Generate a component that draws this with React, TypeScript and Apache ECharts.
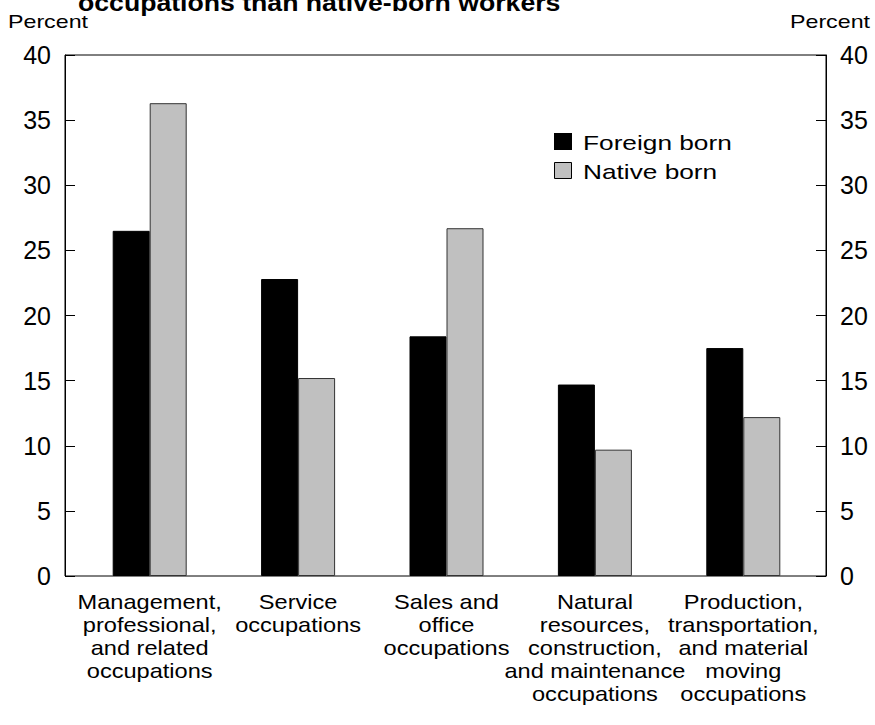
import React, { useEffect, useRef } from "react";
import * as echarts from "echarts";

const categories = [
  "Management,\nprofessional,\nand related\noccupations",
  "Service\noccupations",
  "Sales and\noffice\noccupations",
  "Natural\nresources,\nconstruction,\nand maintenance\noccupations",
  "Production,\ntransportation,\nand material\nmoving\noccupations",
];
const foreignBorn = [26.5, 22.8, 18.4, 14.7, 17.5];
const nativeBorn = [36.3, 15.2, 26.7, 9.7, 12.2];
const seriesNames = ["Foreign born", "Native born"];
const yMin = 0;
const yMax = 40;
const yInterval = 5;
const axisTitle = "Percent";
const titleText = "occupations than native-born workers";

const FONT = "'Liberation Sans', Arial, Helvetica, sans-serif";
const FOREIGN_COLOR = "#000";
const NATIVE_COLOR = "#c0c0c0";

export default function App() {
  const ref = useRef<HTMLDivElement>(null);
  useEffect(() => {
    document.body.style.margin = "0";
    const chart = echarts.init(ref.current!, null, { renderer: "svg" });
    const yCommon = {
      type: "value",
      min: yMin,
      max: yMax,
      interval: yInterval,
      splitLine: { show: false },
      axisLine: { show: true, lineStyle: { color: "#000", width: 1 } },
      axisTick: { show: true, inside: true, length: 10, lineStyle: { color: "#000" } },
      axisLabel: { color: "#000", fontSize: 25, fontFamily: FONT, margin: 14 },
    };
    const legendText = (text: string, x: number, y: number) => ({
      type: "text",
      x,
      y,
      scaleX: 1.25,
      style: { text, fontSize: 21, fontFamily: FONT, fill: "#000", verticalAlign: "middle", align: "left" },
    });
    chart.setOption({
      animation: false,
      backgroundColor: "#fff",
      textStyle: { fontFamily: FONT, color: "#000" },
      grid: [
        { left: 65, right: 49, top: 55, bottom: 149, show: true, borderColor: "#000", borderWidth: 1, backgroundColor: "transparent" },
        { left: 75.5, right: 57.5, top: 55, bottom: 149 },
      ],
      xAxis: [
        { type: "category", gridIndex: 0, data: categories, show: false },
        {
          type: "category",
          gridIndex: 1,
          data: categories,
          axisLine: { show: false },
          axisTick: { show: false },
          axisLabel: { show: false },
        },
      ],
      yAxis: [
        { ...yCommon, gridIndex: 0, position: "left" },
        { ...yCommon, gridIndex: 0, position: "right" },
        { type: "value", gridIndex: 1, min: yMin, max: yMax, show: false },
      ],
      graphic: [
        { type: "text", x: 8, y: 22, scaleX: 1.29, style: { text: axisTitle, fontSize: 18, fontFamily: FONT, fill: "#000", verticalAlign: "middle" } },
        { type: "text", x: 870, y: 22, scaleX: 1.29, style: { text: axisTitle, fontSize: 18, fontFamily: FONT, fill: "#000", verticalAlign: "middle", align: "right" } },
        { type: "text", x: 78, y: 14, scaleX: 1.11, style: { text: titleText, fontSize: 24, fontWeight: "bold", fontFamily: FONT, fill: "#000", verticalAlign: "bottom" } },
        { type: "rect", shape: { x: 554, y: 133, width: 18, height: 17 }, style: { fill: FOREIGN_COLOR } },
        legendText(seriesNames[0], 583, 142),
        { type: "rect", shape: { x: 554.5, y: 162.5, width: 17, height: 16 }, style: { fill: NATIVE_COLOR, stroke: "#000", lineWidth: 1 } },
        legendText(seriesNames[1], 583, 171),
      ],
      series: [
        {
          name: seriesNames[0],
          type: "bar",
          xAxisIndex: 1,
          yAxisIndex: 2,
          data: foreignBorn,
          barWidth: 37,
          barGap: "0%",
          itemStyle: { color: FOREIGN_COLOR, borderColor: "#000", borderWidth: 1 },
        },
        {
          name: seriesNames[1],
          type: "bar",
          xAxisIndex: 1,
          yAxisIndex: 2,
          data: nativeBorn,
          barWidth: 37,
          barGap: "0%",
          itemStyle: { color: NATIVE_COLOR, borderColor: "#333", borderWidth: 1 },
        },
        {
          type: "custom",
          name: "labels",
          xAxisIndex: 1,
          yAxisIndex: 2,
          silent: true,
          clip: false,
          data: categories.map((_, i) => [i, 0]),
          encode: { x: 0, y: 1 },
          renderItem: (params: any, api: any) => {
            const idx = api.value(0);
            const pt = api.coord([idx, 0]);
            return {
              type: "text",
              x: pt[0],
              y: pt[1] + 15,
              scaleX: 1.18,
              style: {
                text: categories[idx],
                fontSize: 20,
                lineHeight: 23,
                fontFamily: FONT,
                fill: "#000",
                align: "center",
                verticalAlign: "top",
              },
            };
          },
        },
      ],
    });
    return () => chart.dispose();
  }, []);
  return <div ref={ref} style={{ position: "absolute", left: 0, top: 0, width: 875, height: 725 }} />;
}
